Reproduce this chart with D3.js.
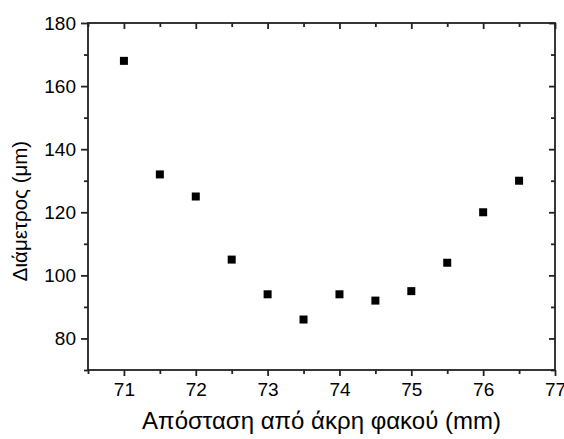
<!DOCTYPE html>
<html>
<head>
<meta charset="utf-8">
<script src="https://cdn.jsdelivr.net/npm/d3@7"></script>
<style>
  body { margin: 0; background: #fff; }
  text { font-family: "Liberation Sans", Arial, sans-serif; }
</style>
</head>
<body>
<script>
// data
const distance = [71, 71.5, 72, 72.5, 73, 73.5, 74, 74.5, 75, 75.5, 76, 76.5];
const diameter = [168, 132, 125, 105, 94, 86, 94, 92, 95, 104, 120, 130];
const xTicks = [71, 72, 73, 74, 75, 76, 77];
const xMinor = [70.5, 71.5, 72.5, 73.5, 74.5, 75.5, 76.5];
const yTicks = [80, 100, 120, 140, 160, 180];
const yMinor = [70, 90, 110, 130, 150, 170];

const width = 564, height = 439;
const plotLeft = 88, plotRight = 555, plotTop = 23, plotBottom = 370;

const svg = d3.select("body").append("svg")
    .attr("width", width)
    .attr("height", height);

const x = d3.scaleLinear().domain([70.5, 77]).range([plotLeft, plotRight]);
const y = d3.scaleLinear().domain([70, 180]).range([plotBottom, plotTop]);

const axisColor = "#222";

// major + minor ticks, Origin style: outward on bottom/left, inward on top/right
function styleAxis(g) {
    g.select(".domain").remove();
    g.selectAll("line").attr("stroke", axisColor).attr("stroke-width", 1.8);
    g.selectAll("text").attr("fill", "#000").style("font-size", "19px");
}

svg.append("g")
    .attr("transform", `translate(0,${plotBottom})`)
    .call(d3.axisBottom(x).tickValues(xTicks).tickSize(6).tickPadding(7).tickFormat(d3.format("d")))
    .call(styleAxis);
svg.append("g")
    .attr("transform", `translate(0,${plotBottom})`)
    .call(d3.axisBottom(x).tickValues(xMinor).tickSize(4).tickFormat(""))
    .call(styleAxis);

svg.append("g")
    .attr("transform", `translate(0,${plotTop})`)
    .call(d3.axisBottom(x).tickValues(xTicks).tickSize(6).tickFormat(""))
    .call(styleAxis);
svg.append("g")
    .attr("transform", `translate(0,${plotTop})`)
    .call(d3.axisBottom(x).tickValues(xMinor).tickSize(4).tickFormat(""))
    .call(styleAxis);

svg.append("g")
    .attr("transform", `translate(${plotLeft},0)`)
    .call(d3.axisLeft(y).tickValues(yTicks).tickSize(7).tickPadding(5))
    .call(styleAxis);
svg.append("g")
    .attr("transform", `translate(${plotLeft},0)`)
    .call(d3.axisLeft(y).tickValues(yMinor).tickSize(4).tickFormat(""))
    .call(styleAxis);

svg.append("g")
    .attr("transform", `translate(${plotRight},0)`)
    .call(d3.axisLeft(y).tickValues(yTicks).tickSize(6).tickFormat(""))
    .call(styleAxis);
svg.append("g")
    .attr("transform", `translate(${plotRight},0)`)
    .call(d3.axisLeft(y).tickValues(yMinor).tickSize(4).tickFormat(""))
    .call(styleAxis);

// frame
svg.append("rect")
    .attr("x", plotLeft)
    .attr("y", plotTop)
    .attr("width", plotRight - plotLeft)
    .attr("height", plotBottom - plotTop)
    .attr("fill", "none")
    .attr("stroke", axisColor)
    .attr("stroke-width", 1.8);

// square markers
const size = 8;
svg.append("g")
    .selectAll("rect")
    .data(distance)
    .join("rect")
    .attr("x", (d, i) => x(d) - size / 2)
    .attr("y", (d, i) => y(diameter[i]) - size / 2)
    .attr("width", size)
    .attr("height", size)
    .attr("fill", "#000");

// axis titles
svg.append("text")
    .attr("x", (plotLeft + plotRight) / 2)
    .attr("y", 429)
    .attr("text-anchor", "middle")
    .style("font-size", "24px")
    .text("Απόσταση από άκρη φακού (mm)");

svg.append("text")
    .attr("transform", "translate(27,211) rotate(-90)")
    .attr("text-anchor", "middle")
    .style("font-size", "20.5px")
    .text("Διάμετρος (μm)");
</script>
</body>
</html>
